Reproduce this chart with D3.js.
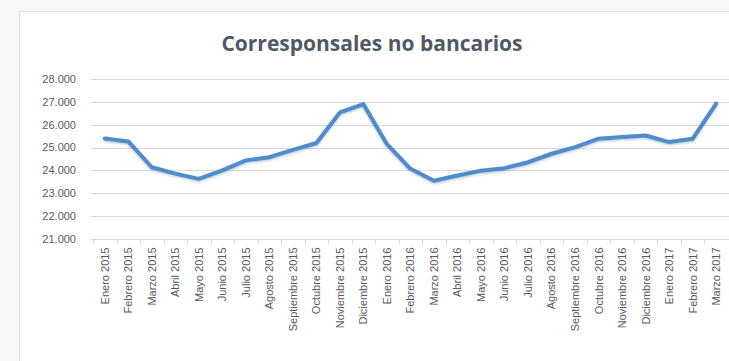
<!DOCTYPE html>
<html>
<head>
<meta charset="utf-8">
<script src="https://cdn.jsdelivr.net/npm/d3@7"></script>
<style>
  html, body { margin: 0; padding: 0; background: #f7f7f7; }
  svg { display: block; }
</style>
</head>
<body>
<svg id="chart" width="729" height="361"></svg>
<script>
// Corresponsales no bancarios, monthly count (thousands)
const months = [
  "Enero 2015", "Febrero 2015", "Marzo 2015", "Abril 2015", "Mayo 2015", "Junio 2015",
  "Julio 2015", "Agosto 2015", "Septiembre 2015", "Octubre 2015", "Noviembre 2015", "Diciembre 2015",
  "Enero 2016", "Febrero 2016", "Marzo 2016", "Abril 2016", "Mayo 2016", "Junio 2016",
  "Julio 2016", "Agosto 2016", "Septiembre 2016", "Octubre 2016", "Noviembre 2016", "Diciembre 2016",
  "Enero 2017", "Febrero 2017", "Marzo 2017"
];
const corresponsales = [
  25400, 25270, 24140, 23860, 23630, 24000,
  24440, 24580, 24900, 25200, 26540, 26900,
  25150, 24070, 23550, 23780, 23990, 24100,
  24360, 24730, 25020, 25390, 25460, 25530,
  25240, 25390, 26920
];
const yTicks = [21000, 22000, 23000, 24000, 25000, 26000, 27000, 28000];
const title = "Corresponsales no bancarios";

const svg = d3.select("#chart");
const W = 729, H = 361;
const margin = { left: 93, right: 1, top: 79, bottom: 123 };

// chart frame
svg.append("rect")
  .attr("x", 19.5).attr("y", 11.5)
  .attr("width", W + 10).attr("height", H)
  .attr("fill", "#ffffff").attr("stroke", "#dcdcdc");

const x = d3.scaleBand().domain(months)
  .range([margin.left, W - margin.right]).paddingInner(0).paddingOuter(0);
const y = d3.scaleLinear().domain([21000, 28000])
  .range([H - margin.bottom + 1, margin.top]);

const fmt = v => d3.format(",")(v).replace(/,/g, ".");

// horizontal gridlines
svg.append("g").selectAll("line").data(yTicks.slice(1)).join("line")
  .attr("x1", margin.left - 2).attr("x2", W)
  .attr("y1", d => Math.round(y(d)) + 0.5).attr("y2", d => Math.round(y(d)) + 0.5)
  .attr("stroke", "#d9d9d9").attr("stroke-width", 1);

// y axis labels
svg.append("g").selectAll("text").data(yTicks).join("text")
  .attr("x", 76).attr("y", d => y(d))
  .attr("dy", "0.35em")
  .attr("text-anchor", "end")
  .attr("font-family", "Liberation Sans, Arial, sans-serif")
  .attr("font-size", 11)
  .attr("fill", "#595959")
  .text(fmt);

// x axis
const xAxis = d3.axisBottom(x).tickSize(0).tickPadding(0);
const gx = svg.append("g")
  .attr("transform", `translate(0,${Math.round(y(21000)) + 0.5})`)
  .call(xAxis);
gx.select(".domain").attr("stroke", "#d9d9d9").attr("d", `M${margin.left - 2},0H${W}`);
gx.selectAll(".tick text")
  .attr("transform", "rotate(-90)")
  .attr("text-anchor", "end")
  .attr("x", -8).attr("y", 0).attr("dy", "0.35em")
  .attr("font-family", "Liberation Sans, Arial, sans-serif")
  .attr("font-size", 11)
  .attr("fill", "#595959");
// category boundary ticks
gx.append("g").selectAll("line").data(months).join("line")
  .attr("x1", d => Math.round(x(d)) + 0.5).attr("x2", d => Math.round(x(d)) + 0.5)
  .attr("y1", 0).attr("y2", 5)
  .attr("stroke", "#d9d9d9");

// soft shadow under the series line
const defs = svg.append("defs");
const f = defs.append("filter").attr("id", "shadow")
  .attr("x", "-5%").attr("y", "-20%").attr("width", "110%").attr("height", "140%");
f.append("feDropShadow").attr("dx", 0).attr("dy", 1.5).attr("stdDeviation", 1.2)
  .attr("flood-color", "#7a8fa8").attr("flood-opacity", 0.45);

const line = d3.line()
  .x((d, i) => x(months[i]) + x.bandwidth() / 2)
  .y(d => y(d));

svg.append("path")
  .datum(corresponsales)
  .attr("d", line)
  .attr("fill", "none")
  .attr("stroke", "#4f8ccb")
  .attr("stroke-width", 4)
  .attr("stroke-linejoin", "round")
  .attr("stroke-linecap", "round")
  .attr("filter", "url(#shadow)");

// title
svg.append("text")
  .attr("x", 372).attr("y", 51)
  .attr("text-anchor", "middle")
  .attr("font-family", "Open Sans, Liberation Sans, sans-serif")
  .attr("font-weight", "bold")
  .attr("font-size", 21)
  .attr("fill", "#4e5a66")
  .text(title);
</script>
</body>
</html>
